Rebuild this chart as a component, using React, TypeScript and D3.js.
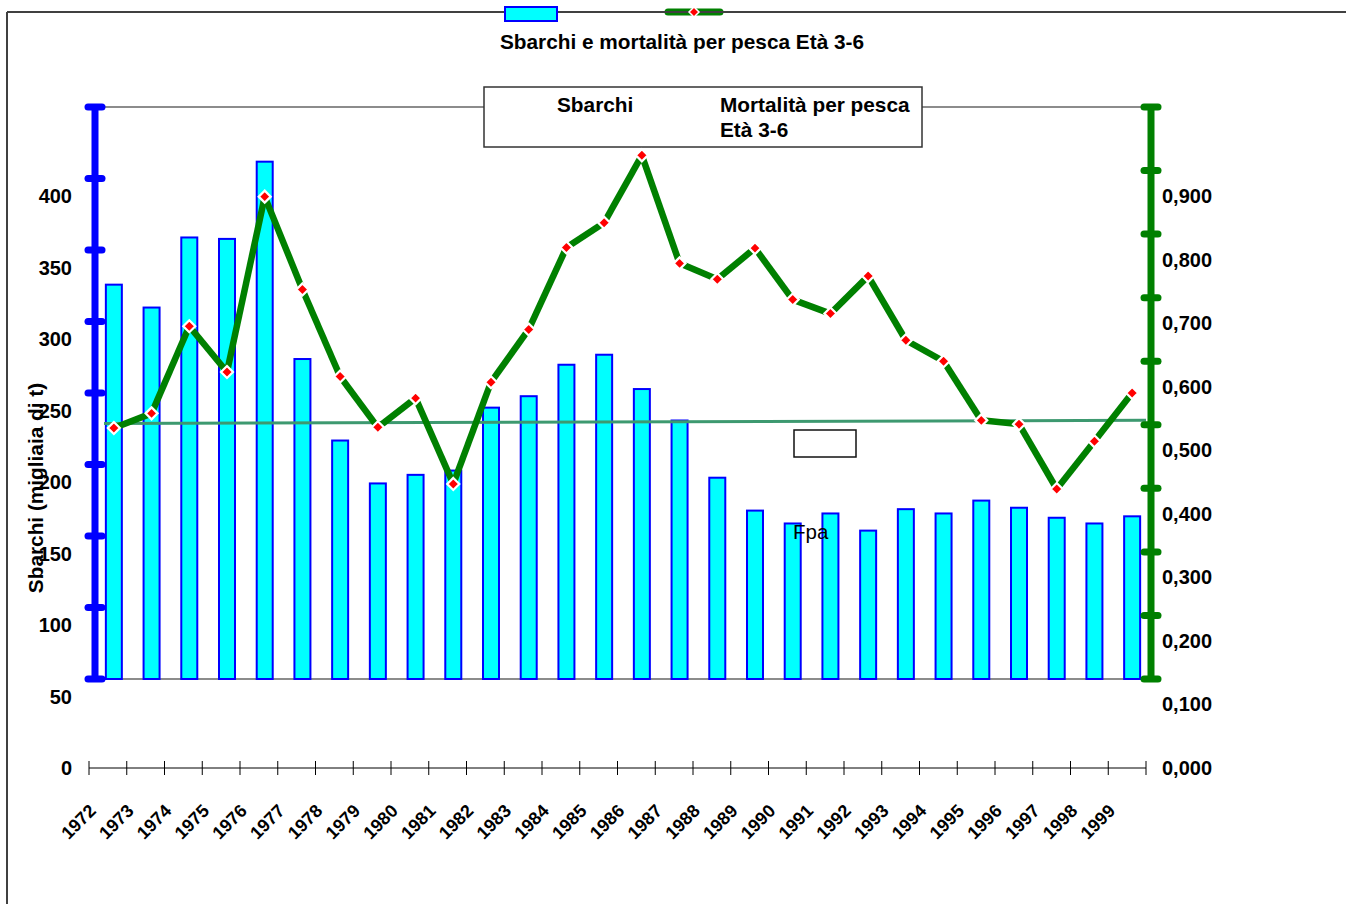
import React from "react";
import * as d3 from "d3";

const years = [
  "1972","1973","1974","1975","1976","1977","1978","1979","1980","1981",
  "1982","1983","1984","1985","1986","1987","1988","1989","1990","1991",
  "1992","1993","1994","1995","1996","1997","1998","1999",
];
const sbarchi = [
  338, 322, 371, 370, 424, 286, 229, 199, 205, 208,
  252, 260, 282, 289, 265, 243, 203, 180, 171, 178,
  166, 181, 178, 187, 182, 175, 171, 176,
];
const mortalita = [
  0.535, 0.558, 0.695, 0.623, 0.899, 0.753, 0.616, 0.536, 0.582, 0.447,
  0.607, 0.690, 0.819, 0.858, 0.964, 0.794, 0.769, 0.818, 0.737, 0.715,
  0.774, 0.673, 0.640, 0.547, 0.541, 0.439, 0.514, 0.590,
];
const fpaStart = 0.542;
const fpaEnd = 0.547;
const leftTicks = [0, 50, 100, 150, 200, 250, 300, 350, 400];
const rightTicks = [0, 0.1, 0.2, 0.3, 0.4, 0.5, 0.6, 0.7, 0.8, 0.9];
const title = "Sbarchi e mortalità per pesca Età 3-6";
const yTitle = "Sbarchi (migliaia di t)";

const FONT = "'Liberation Sans', Arial, sans-serif";
const FS = 20.8;

export default function App() {
  const W = 1346, H = 904;
  const plotL = 95, plotR = 1151, plotTop = 107, plotBot = 679;
  const x = d3.scaleBand<string>().domain(years).range([plotL, plotR]).padding(0);
  const xAxis = d3.scaleBand<string>().domain(years).range([89, 1146]).padding(0);
  const yL = d3.scaleLinear().domain([0, 400]).range([768, 196]);
  const yR = d3.scaleLinear().domain([0, 0.9]).range([768, 196]);
  const yLt = d3.scaleLinear().domain([0, 400]).range([plotBot, plotTop]);
  const yRt = d3.scaleLinear().domain([0, 0.9]).range([plotBot, plotTop]);
  const cx = (y: string) => (x(y) as number) + x.bandwidth() / 2;
  const barW = 16;
  const fmtR = (v: number) => v.toFixed(3).replace(".", ",");
  const pts = mortalita.map((v, i) => [cx(years[i]), yR(v)] as [number, number]);
  const diamond = (px: number, py: number, r: number) =>
    `M${px},${py - r}L${px + r},${py}L${px},${py + r}L${px - r},${py}Z`;

  return (
    <svg width={W} height={H} style={{ position: "absolute", left: 0, top: 0, background: "#fff" }}
      fontFamily={FONT}>
      <rect x={0} y={0} width={W} height={H} fill="#fff" />
      {/* top legend green */}
      <line x1={668} x2={720} y1={12} y2={12} stroke="#008000" strokeWidth={7} strokeLinecap="round" />
      {/* frame */}
      <line x1={7} x2={W} y1={12} y2={12} stroke="#404040" strokeWidth={2} />
      <line x1={7} x2={7} y1={12} y2={H} stroke="#404040" strokeWidth={2} />
      <rect x={505} y={7} width={52} height={14} fill="#00ffff" stroke="#0000ff" strokeWidth={2} />
      <path d={diamond(694, 12, 5)} fill="#ff0000" stroke="#fff" strokeWidth={1.5} />

      <text x={682} y={49} textAnchor="middle" fontSize={FS} fontWeight="bold">{title}</text>

      {/* plot area grey lines */}
      <line x1={plotL} x2={plotR} y1={plotTop} y2={plotTop} stroke="#8c8c8c" strokeWidth={2} />
      <line x1={plotL} x2={plotR} y1={plotBot} y2={plotBot} stroke="#8c8c8c" strokeWidth={2} />

      {/* legend box */}
      <rect x={484} y={87} width={438} height={60} fill="#fff" stroke="#333" strokeWidth={1.5} />
      <text x={557} y={112} fontSize={FS} fontWeight="bold">Sbarchi</text>
      <text x={720} y={112} fontSize={FS} fontWeight="bold">Mortalità per pesca</text>
      <text x={720} y={137} fontSize={FS} fontWeight="bold">Età 3-6</text>

      {/* bars */}
      {sbarchi.map((v, i) => (
        <rect key={years[i]} x={cx(years[i]) - barW / 2} y={yL(v)} width={barW}
          height={plotBot - yL(v)} fill="#00ffff" stroke="#0000ff" strokeWidth={2} />
      ))}

      {/* Fpa line */}
      <line x1={104} x2={1146} y1={yR(fpaStart)} y2={yR(fpaEnd)} stroke="#3d9970" strokeWidth={3} />
      <rect x={794} y={430} width={62} height={27} fill="#fff" stroke="#111" strokeWidth={1.5} />
      <text x={793} y={539} fontSize={20.5}>Fpa</text>

      {/* mortality line */}
      {pts.slice(1).map((p, i) => (
        <line key={i} x1={pts[i][0]} y1={pts[i][1]} x2={p[0]} y2={p[1]}
          stroke="#008000" strokeWidth={6.5} strokeLinecap="butt" />
      ))}
      {pts.map((p, i) => (
        <path key={i} d={diamond(p[0], p[1], 6)} fill="#ff0000" stroke="#fff" strokeWidth={2.2} />
      ))}

      {/* left axis */}
      <line x1={plotL} x2={plotL} y1={plotTop} y2={plotBot} stroke="#0000ff" strokeWidth={7} />
      {leftTicks.map((t) => (
        <line key={t} x1={plotL - 7} x2={plotL + 7} y1={yLt(t)} y2={yLt(t)} stroke="#0000ff"
          strokeWidth={7} strokeLinecap="round" />
      ))}
      {leftTicks.map((t) => (
        <text key={t} x={72} y={yL(t) + 7} textAnchor="end" fontSize={20} fontWeight="bold">{t}</text>
      ))}
      <text transform={`translate(43,488) rotate(-90)`} textAnchor="middle" fontSize={FS} fontWeight="bold">{yTitle}</text>

      {/* right axis */}
      <line x1={plotR} x2={plotR} y1={plotTop} y2={plotBot} stroke="#008000" strokeWidth={7} />
      {rightTicks.map((t) => (
        <line key={t} x1={plotR - 7} x2={plotR + 7} y1={yRt(t)} y2={yRt(t)} stroke="#008000"
          strokeWidth={7} strokeLinecap="round" />
      ))}
      {rightTicks.map((t) => (
        <text key={t} x={1162} y={yR(t) + 7} fontSize={20} fontWeight="bold">{fmtR(t)}</text>
      ))}

      {/* x axis */}
      <line x1={89} x2={1146} y1={768} y2={768} stroke="#000" strokeWidth={1} />
      {[...years.map((y) => xAxis(y) as number), 1146].map((px, i) => (
        <line key={i} x1={px} x2={px} y1={761} y2={775} stroke="#000" strokeWidth={1} />
      ))}
      {years.map((y) => (
        <text key={y} transform={`translate(${(xAxis(y) as number) + 8},812) rotate(-45)`}
          textAnchor="end" fontSize={18} fontWeight="bold">{y}</text>
      ))}
    </svg>
  );
}
